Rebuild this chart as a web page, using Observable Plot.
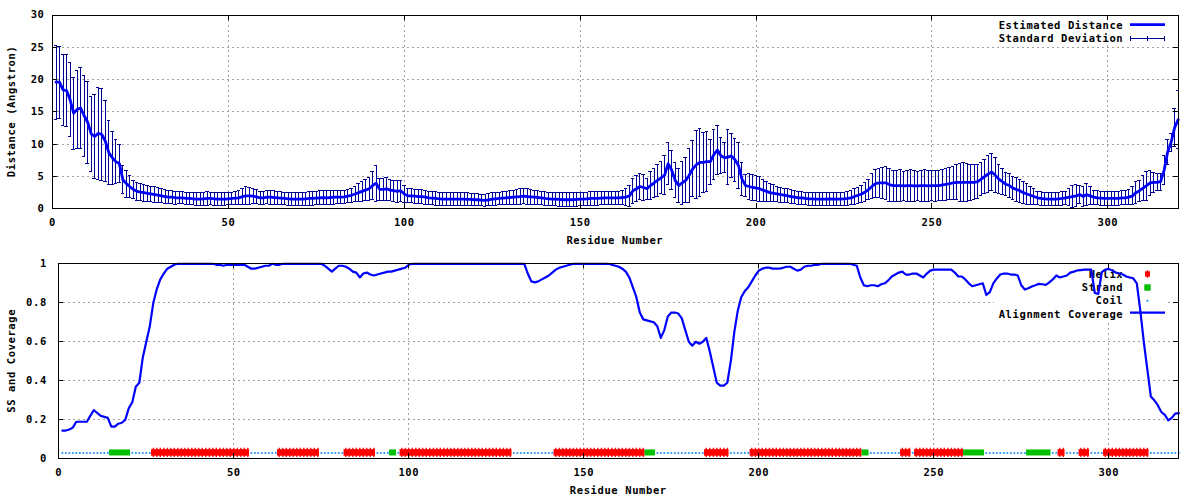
<!DOCTYPE html>
<html><head><meta charset="utf-8">
<script src="https://cdn.jsdelivr.net/npm/d3@7"></script>
<script src="https://cdn.jsdelivr.net/npm/@observablehq/plot@0.6"></script>
<style>
body{margin:0;background:#fff;}
#chart svg{display:block;}
</style></head><body><div id="chart"></div>
<script>
// ---------------- DATA ----------------
const residues = d3.range(1, 321);
const distMean = [
19.6,19.6,18.4,18.3,16.9,14.8,15.4,15.6,14.4,13.4,
11.6,11.2,11.7,11.5,10.5,8.7,7.9,7.3,7.0,4.5,
3.9,3.4,3.0,2.7,2.6,2.5,2.4,2.3,2.2,2.1,
2.0,1.9,1.8,1.8,1.7,1.7,1.7,1.6,1.6,1.55,
1.5,1.5,1.55,1.6,1.6,1.55,1.5,1.5,1.5,1.55,
1.6,1.65,1.7,1.9,2.0,2.0,1.95,1.85,1.7,1.7,
1.8,1.8,1.75,1.7,1.65,1.6,1.55,1.5,1.5,1.5,
1.5,1.55,1.6,1.6,1.65,1.7,1.75,1.7,1.75,1.8,
1.8,1.8,1.85,1.95,2.1,2.3,2.5,2.7,2.9,3.1,
3.6,3.95,3.0,3.0,3.1,2.9,2.8,2.7,2.8,2.3,
2.0,2.0,1.95,1.9,1.9,1.8,1.7,1.65,1.6,1.55,
1.5,1.5,1.5,1.5,1.5,1.5,1.5,1.45,1.45,1.4,
1.4,1.35,1.3,1.4,1.5,1.55,1.6,1.65,1.7,1.75,
1.8,1.85,1.9,1.95,1.9,1.85,1.8,1.75,1.7,1.6,
1.55,1.5,1.5,1.45,1.4,1.4,1.4,1.4,1.45,1.5,
1.5,1.55,1.6,1.6,1.6,1.65,1.7,1.7,1.7,1.7,
1.7,1.75,1.8,2.0,2.8,3.1,3.45,3.3,3.1,3.6,
4.0,4.4,4.8,5.2,7.0,6.0,4.4,3.6,4.0,4.4,
5.2,6.2,6.8,7.2,7.2,7.3,7.3,8.4,9.1,8.2,
7.9,8.0,8.2,7.6,6.7,4.6,3.6,3.45,3.3,3.25,
3.1,2.9,2.7,2.5,2.4,2.3,2.2,2.1,2.0,1.9,
1.8,1.7,1.7,1.6,1.55,1.55,1.5,1.5,1.5,1.5,
1.55,1.5,1.5,1.5,1.55,1.6,1.7,1.9,2.1,2.3,
2.6,3.0,3.5,3.9,4.0,4.0,4.0,3.7,3.6,3.6,
3.6,3.55,3.6,3.6,3.55,3.55,3.6,3.6,3.55,3.6,
3.6,3.6,3.7,3.8,3.9,4.0,4.1,4.1,4.1,4.1,
4.1,4.1,4.2,4.6,5.0,5.4,5.7,5.2,4.6,4.2,
3.8,3.6,3.2,3.0,2.8,2.5,2.3,2.1,1.9,1.7,
1.6,1.55,1.5,1.5,1.5,1.55,1.6,1.7,1.8,1.9,
2.0,2.2,1.9,2.2,2.0,1.8,1.7,1.65,1.6,1.6,
1.6,1.6,1.6,1.7,1.7,1.8,2.0,2.5,2.8,3.2,
3.6,4.0,4.1,4.1,4.2,6.0,8.8,10.3,12.6,13.8
];
const distSD = [
5.75,5.55,5.45,5.6,5.7,5.55,6.05,6.3,6.3,6.35,
5.8,6.55,7.15,7.1,6.3,5.0,4.1,3.45,3.0,2.15,
2.1,1.7,1.45,1.35,1.3,1.3,1.25,1.2,1.2,1.15,
1.1,1.05,1.0,1.0,1.0,0.95,0.95,0.95,0.95,0.95,
1.0,1.0,1.05,1.05,1.0,1.0,1.0,0.95,0.95,0.95,
1.0,1.05,1.1,1.25,1.4,1.3,1.2,1.1,1.0,1.0,
1.05,1.1,1.05,1.0,1.0,1.0,1.0,1.0,1.0,1.05,
1.05,1.05,1.05,1.05,1.05,1.1,1.1,1.1,1.1,1.1,
1.0,1.0,1.0,1.05,1.1,1.2,1.35,1.5,1.6,1.8,
2.2,2.75,1.7,1.7,1.8,1.65,1.6,1.7,1.65,1.3,
1.1,1.1,1.1,1.1,1.1,1.1,1.05,1.05,1.05,1.05,
1.0,1.0,1.0,1.0,1.0,1.0,1.0,1.0,0.95,0.95,
0.9,0.9,0.9,0.9,0.95,1.0,1.0,1.05,1.05,1.05,
1.1,1.15,1.2,1.2,1.2,1.15,1.1,1.1,1.05,1.05,
1.05,1.05,1.05,1.05,1.05,1.05,1.05,1.05,1.05,1.05,
1.05,1.05,1.05,1.05,1.05,1.05,1.05,1.0,1.0,1.0,
1.0,1.1,1.3,1.6,1.95,2.0,2.0,2.0,1.6,2.1,
2.3,2.5,2.5,3.0,3.2,3.05,2.7,2.6,3.35,3.5,
4.2,4.3,5.25,5.25,4.65,4.6,3.5,3.8,3.8,2.8,
2.3,4.3,3.4,3.3,3.6,2.5,1.75,2.0,2.0,1.9,
1.9,1.7,1.55,1.4,1.3,1.2,1.15,1.1,1.1,1.05,
1.05,1.0,1.0,1.0,1.0,1.0,1.0,1.0,1.0,1.0,
1.0,1.0,1.0,1.0,1.0,1.05,1.1,1.2,1.25,1.3,
1.4,1.6,1.9,2.2,2.3,2.4,2.5,2.5,2.4,2.4,
2.5,2.3,2.4,2.5,2.4,2.3,2.4,2.5,2.4,2.3,
2.4,2.3,2.4,2.5,2.5,2.6,2.7,2.9,3.0,2.9,
2.8,2.7,2.6,2.5,2.6,2.8,2.9,2.7,2.3,2.0,
1.8,1.8,1.8,1.8,1.8,1.7,1.6,1.4,1.2,1.05,
1.05,1.05,1.05,1.05,1.05,1.05,1.05,1.05,1.3,1.7,
1.7,1.4,1.6,1.75,1.4,1.1,1.1,1.1,1.1,1.1,
1.1,1.1,1.1,1.1,1.1,1.2,1.4,1.65,1.65,1.9,
2.25,2.0,1.55,1.3,1.3,2.2,1.9,1.4,3.0,4.5
];
const coverage = [
0.145,0.145,0.15,0.16,0.19,0.19,0.19,0.19,0.22,0.25,
0.235,0.22,0.215,0.21,0.165,0.165,0.18,0.185,0.2,0.26,
0.29,0.37,0.39,0.52,0.6,0.68,0.8,0.87,0.92,0.95,
0.975,0.985,0.995,1,1,1,1,1,1,1,
1,1,1,1,0.995,0.995,0.99,0.995,0.995,0.995,
0.995,0.995,0.995,0.985,0.975,0.975,0.98,0.985,0.99,0.99,
1,0.995,0.995,1,1,1,1,1,1,1,
1,1,1,1,1,0.99,0.975,0.96,0.975,0.99,
0.99,0.985,0.975,0.96,0.955,0.93,0.95,0.955,0.945,0.94,
0.945,0.95,0.955,0.96,0.96,0.965,0.97,0.975,0.98,0.995,
1,1,1,1,1,1,1,1,1,1,
1,1,1,1,1,1,1,1,1,1,
1,1,1,1,1,1,1,1,1,1,
1,1,1,0.95,0.91,0.905,0.91,0.92,0.93,0.94,
0.955,0.97,0.98,0.985,0.99,0.995,1,1,1,1,
1,1,1,1,1,1,1,0.995,0.99,0.985,
0.975,0.96,0.93,0.88,0.83,0.75,0.715,0.71,0.705,0.7,
0.68,0.62,0.66,0.73,0.75,0.75,0.745,0.72,0.66,0.6,
0.58,0.6,0.59,0.6,0.62,0.55,0.47,0.39,0.375,0.375,
0.39,0.5,0.65,0.76,0.83,0.86,0.88,0.91,0.94,0.965,
0.975,0.98,0.98,0.975,0.975,0.975,0.98,0.985,0.985,0.975,
0.965,0.97,0.985,0.99,0.99,0.995,0.995,1,1,1,
1,1,1,1,1,1,0.995,0.99,0.93,0.89,
0.885,0.89,0.89,0.885,0.895,0.9,0.915,0.935,0.945,0.955,
0.96,0.945,0.945,0.95,0.95,0.94,0.93,0.95,0.965,0.97,
0.97,0.97,0.97,0.97,0.97,0.955,0.935,0.935,0.92,0.9,
0.885,0.89,0.895,0.9,0.84,0.855,0.9,0.925,0.945,0.95,
0.95,0.945,0.945,0.94,0.89,0.868,0.875,0.884,0.89,0.897,
0.895,0.892,0.905,0.92,0.94,0.93,0.935,0.94,0.955,0.96,
0.966,0.968,0.97,0.97,0.97,0.85,0.846,0.957,0.97,0.974,
0.965,0.955,0.95,0.945,0.935,0.93,0.925,0.9,0.76,0.6,
0.46,0.32,0.3,0.275,0.24,0.225,0.197,0.21,0.232,0.234
];
const helixSegments = [[27,54],[63,74],[82,90],[98,129],[142,167],[185,191],[198,229],[241,243],[245,258],[286,287],[292,294],[299,311]];
const strandSegments = [[15,20],[95,96],[168,170],[230,231],[259,264],[277,283]];
const ssLevel = 0.03;
const xTicks = [0, 50, 100, 150, 200, 250, 300];
const distTicks = [0, 5, 10, 15, 20, 25, 30];
const covTicks = [0, 0.2, 0.4, 0.6, 0.8, 1];
const covTickLabels = ["0", "0.2", "0.4", "0.6", "0.8", "1"];
const xLabel = "Residue Number";
const distLabel = "Distance (Angstron)";
const covLabel = "SS and Coverage";
const topKey = ["Estimated Distance", "Standard Deviation"];
const bottomKey = ["Helix", "Strand", "Coil", "Alignment Coverage"];

// ---------------- STYLE ----------------
const FONT = "DejaVu Sans Mono";
const BLUE = "#0000ff", NAVY = "#000094", GRID = "#a0a0a0";
const RED = "#ff0000", GREEN = "#00c000", COIL = "#1e90ff";
const W = 1200, H = 250, TL = 5;
const svgStyle = {fontFamily: FONT, fontSize: "10.5px", fontWeight: "bold", letterSpacing: "0.6px", color: "#000", background: "#fff", overflow: "visible"};
const gridOpts = {stroke: GRID, strokeOpacity: 1, strokeDasharray: "2,3", strokeWidth: 1, shapeRendering: "crispEdges"};
const crisp = {shapeRendering: "crispEdges"};

const distData = residues.map((r, i) => ({res: r, mean: distMean[i], sd: distSD[i]}));
const covData = residues.map((r, i) => ({res: r, cov: coverage[i]}));
const inSeg = (segs, r) => segs.some(([a, b]) => r >= a && r <= b);
const ss = residues.map(r => inSeg(helixSegments, r) ? "H" : inSeg(strandSegments, r) ? "E" : "C");
const helixRes = residues.filter((r, i) => ss[i] === "H");
const coilRes = residues.filter((r, i) => ss[i] === "C");

function mirrorTicks(xt, yt, xd, yd, kx, ky) {
  return [
    Plot.ruleX(xt, {x: d => d, y1: yd[0], y2: yd[0] + TL / ky, stroke: "#000", ...crisp}),
    Plot.ruleX(xt, {x: d => d, y1: yd[1], y2: yd[1] - TL / ky, stroke: "#000", ...crisp}),
    Plot.ruleY(yt, {y: d => d, x1: xd[0], x2: xd[0] + TL / kx, stroke: "#000", ...crisp}),
    Plot.ruleY(yt, {y: d => d, x1: xd[1], x2: xd[1] - TL / kx, stroke: "#000", ...crisp})
  ];
}

function decorate(svg, m, yLabel) {
  const s = d3.select(svg);
  const cx = (m.l + (W - m.r)) / 2, cy = (m.t + (H - m.b)) / 2;
  s.append("text").attr("x", cx).attr("y", H - m.b + 32.5).attr("text-anchor", "middle")
    .attr("dy", "0.35em").text(xLabel);
  s.append("text").attr("transform", `translate(11,${cy}) rotate(-90)`).attr("text-anchor", "middle")
    .attr("dy", "0.35em").text(yLabel);
}

function keyLayer(svg) {
  const grids = svg.querySelectorAll('g[aria-label$="grid"]');
  const last = grids[grids.length - 1];
  const g = document.createElementNS("http://www.w3.org/2000/svg", "g");
  last.after(g);
  return d3.select(g);
}

// ---------------- TOP PANEL ----------------
const m1 = {l: 52, r: 22.3, t: 14.5, b: 41.7};
const kx1 = (W - m1.l - m1.r) / 320, ky1 = (H - m1.t - m1.b) / 30;
const plot1 = Plot.plot({
  width: W, height: H,
  marginLeft: m1.l, marginRight: m1.r, marginTop: m1.t, marginBottom: m1.b,
  x: {domain: [0, 320]}, y: {domain: [0, 30]},
  style: svgStyle,
  marks: [
    Plot.gridX(xTicks, gridOpts),
    Plot.gridY(distTicks, gridOpts),
    Plot.ruleX(distData, {x: "res", y1: d => d.mean - d.sd, y2: d => d.mean + d.sd, stroke: NAVY, strokeWidth: 1, ...crisp}),
    Plot.ruleY(distData, {y: d => d.mean + d.sd, x1: d => d.res - 0.5, x2: d => d.res + 0.5, stroke: NAVY, strokeWidth: 1, ...crisp}),
    Plot.ruleY(distData, {y: d => d.mean - d.sd, x1: d => d.res - 0.5, x2: d => d.res + 0.5, stroke: NAVY, strokeWidth: 1, ...crisp}),
    Plot.line(distData, {x: "res", y: "mean", stroke: BLUE, strokeWidth: 2.8}),
    ...mirrorTicks(xTicks, distTicks, [0, 320], [0, 30], kx1, ky1),
    Plot.axisX({ticks: xTicks, tickSize: 0, tickPadding: 10, tickFormat: d => String(d), label: null}),
    Plot.axisY({ticks: distTicks, tickSize: 0, tickPadding: 8, tickFormat: d => String(d), label: null}),
    Plot.frame({stroke: "#000", strokeWidth: 1, ...crisp})
  ]
});
decorate(plot1, m1, distLabel);
{
  const k = keyLayer(plot1);
  k.append("rect").attr("x", 994).attr("y", 18).attr("width", 174).attr("height", 27).attr("fill", "#fff");
  k.append("text").attr("x", 1123.3).attr("y", 25.7).attr("dy", "0.35em").attr("text-anchor", "end").text(topKey[0]);
  k.append("text").attr("x", 1123.3).attr("y", 38.7).attr("dy", "0.35em").attr("text-anchor", "end").text(topKey[1]);
  k.append("line").attr("x1", 1130).attr("x2", 1165).attr("y1", 24.7).attr("y2", 24.7).attr("stroke", BLUE).attr("stroke-width", 2.8);
  k.append("line").attr("x1", 1130).attr("x2", 1165).attr("y1", 38.5).attr("y2", 38.5).attr("stroke", NAVY).attr("shape-rendering", "crispEdges");
  for (const x of [1130.5, 1147.5, 1164.5])
    k.append("line").attr("x1", x).attr("x2", x).attr("y1", 35.8).attr("y2", 41.3).attr("stroke", NAVY).attr("shape-rendering", "crispEdges");
}

// ---------------- BOTTOM PANEL ----------------
const m2 = {l: 58.3, r: 21.7, t: 13.3, b: 41.7};
const kx2 = (W - m2.l - m2.r) / 320, ky2 = (H - m2.t - m2.b) / 1;
const plot2 = Plot.plot({
  width: W, height: H,
  marginLeft: m2.l, marginRight: m2.r, marginTop: m2.t, marginBottom: m2.b,
  x: {domain: [0, 320]}, y: {domain: [0, 1]},
  style: svgStyle,
  marks: [
    Plot.gridX(xTicks, gridOpts),
    Plot.gridY(covTicks, gridOpts),
    Plot.dot(coilRes, {x: d => d, y: ssLevel, r: 1, symbol: "square", fill: COIL, stroke: null}),
    Plot.rect(helixSegments, {x1: d => d[0] - 0.5, x2: d => d[1] + 0.5, y1: ssLevel - 3.3 / ky2, y2: ssLevel + 3.3 / ky2, fill: RED}),
    Plot.ruleX(helixRes, {x: d => d, y1: ssLevel - 4.6 / ky2, y2: ssLevel + 4.6 / ky2, stroke: RED, strokeWidth: 1.3}),
    Plot.rect(strandSegments, {x1: d => d[0] - 0.5, x2: d => d[1] + 0.5, y1: ssLevel - 3.0 / ky2, y2: ssLevel + 3.0 / ky2, fill: GREEN}),
    Plot.line(covData, {x: "res", y: "cov", stroke: BLUE, strokeWidth: 2.2}),
    ...mirrorTicks(xTicks, covTicks, [0, 320], [0, 1], kx2, ky2),
    Plot.axisX({ticks: xTicks, tickSize: 0, tickPadding: 10, tickFormat: d => String(d), label: null}),
    Plot.axisY({ticks: covTicks, tickSize: 0, tickPadding: 12, tickFormat: d => covTickLabels[covTicks.indexOf(d)], label: null}),
    Plot.frame({stroke: "#000", strokeWidth: 1, ...crisp})
  ]
});
decorate(plot2, m2, covLabel);
{
  const k = keyLayer(plot2);
  k.append("rect").attr("x", 994).attr("y", 16.5).attr("width", 174).attr("height", 54).attr("fill", "#fff");
  const ys = [24.3, 37.7, 50.7, 64];
  bottomKey.forEach((t, i) => k.append("text").attr("x", 1123.3).attr("y", ys[i]).attr("dy", "0.35em").attr("text-anchor", "end").text(t));
  k.append("rect").attr("x", 1145).attr("y", 21.3).attr("width", 5).attr("height", 5.4).attr("fill", RED);
  k.append("line").attr("x1", 1147.5).attr("x2", 1147.5).attr("y1", 20.3).attr("y2", 27.7).attr("stroke", RED).attr("stroke-width", 1.3);
  k.append("rect").attr("x", 1144.3).attr("y", 34.3).attr("width", 6.4).attr("height", 6.4).attr("fill", GREEN);
  k.append("rect").attr("x", 1146.5).attr("y", 49.9).attr("width", 1.8).attr("height", 1.8).attr("fill", COIL);
  k.append("line").attr("x1", 1130).attr("x2", 1165).attr("y1", 62.7).attr("y2", 62.7).attr("stroke", BLUE).attr("stroke-width", 2.2);
}

document.getElementById("chart").append(plot1, plot2);
</script>
</body></html>
